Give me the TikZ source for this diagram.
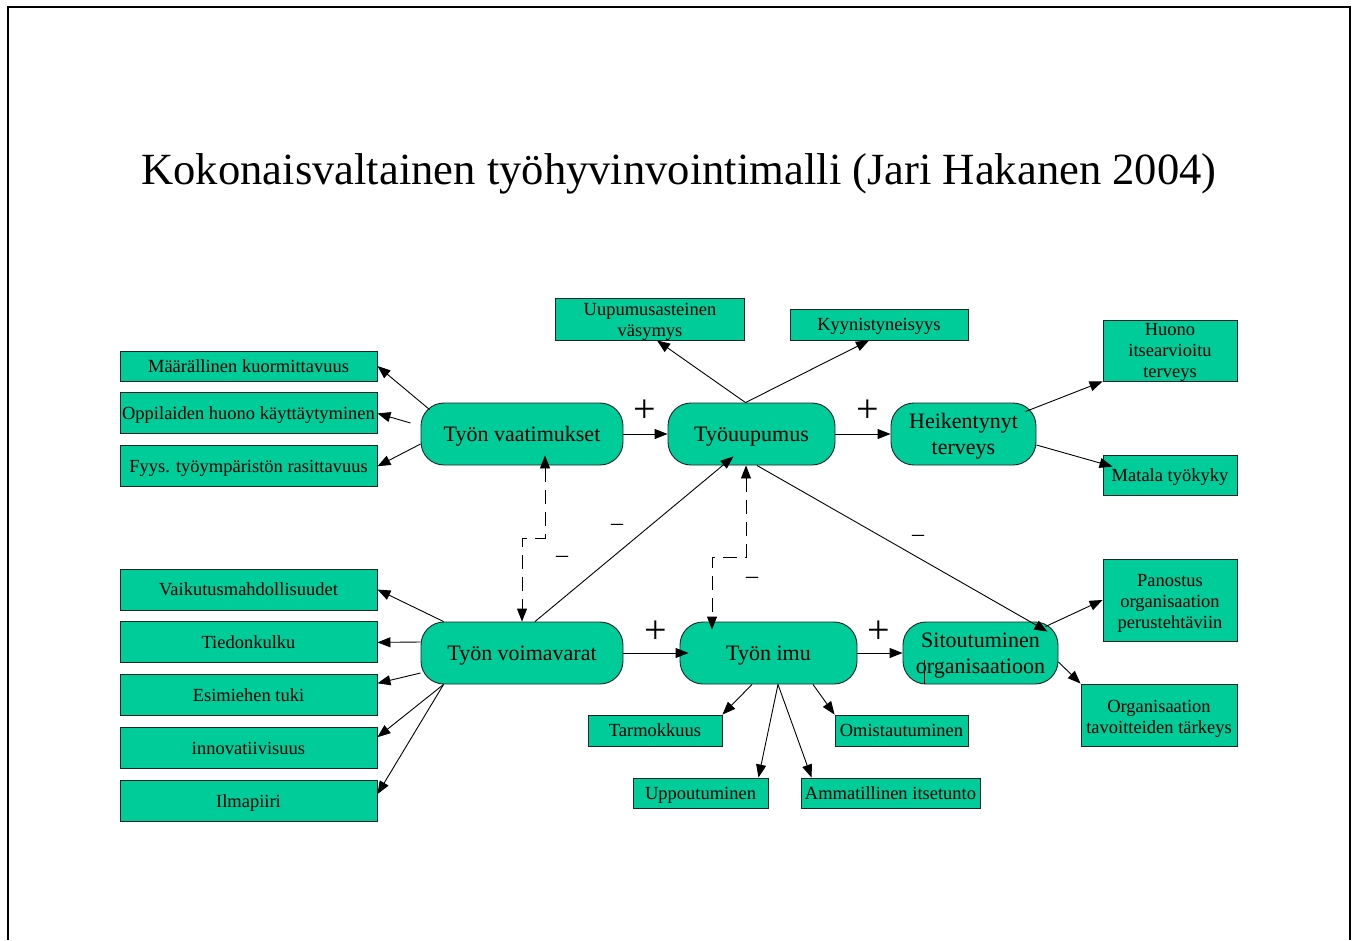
\documentclass[tikz,border=0pt]{standalone}
\usepackage{fontspec}
\setmainfont{Liberation Serif}
\usetikzlibrary{arrows.meta,calc,positioning}
\definecolor{boxGreen}{RGB}{0,204,153}
\definecolor{edgeInk}{RGB}{35,35,35}
\newcommand{\firstrow}[1]{\rule{0pt}{#1}}

\begin{document}
\begin{tikzpicture}[
    x=1pt, y=-1pt,
    flow/.style={-{Triangle[length=13pt,width=10pt]}, line width=0.9pt, draw=black},
    feedback/.style={
      {Triangle[length=13pt,width=10pt]}-{Triangle[length=13pt,width=10pt]},
      line width=0.9pt,
      draw=black,
      dash pattern=on 14pt off 8pt
    },
    construct/.style={
      rounded corners=23pt,
      draw=edgeInk,
      line width=0.9pt,
      fill=boxGreen,
      align=center,
      inner sep=0pt,
      minimum height=62pt,
      font=\fontsize{22}{26}\selectfont
    },
    indicator/.style={
      draw=edgeInk,
      line width=0.9pt,
      fill=boxGreen,
      align=center,
      inner sep=0pt,
      minimum height=41pt,
      font=\fontsize{18.5}{21}\selectfont
    },
    oneline/.style={text height=16pt, text depth=3.8pt},
    bigline/.style={text height=18.5pt, text depth=3.8pt},
    possign/.style={font=\fontsize{40}{40}\selectfont, inner sep=0pt},
    negsign/.style={font=\fontsize{24}{24}\selectfont, inner sep=0pt}
  ]
    \useasboundingbox (0,0) rectangle (1357,940);
    \draw[line width=1.6pt] (8,940) -- (8,7) -- (1350,7) -- (1350,940);

    \node[font=\fontsize{44.6}{50}\selectfont] (title) at (679,174)
      {Kokonaisvaltainen työhyvinvointimalli (Jari Hakanen 2004)};

    % main chain
    \node[construct, bigline, minimum width=202pt] (vaat) at (522,434) {Työn vaatimukset};
    \node[construct, bigline, minimum width=167pt] (uupu) at (751.5,434) {Työuupumus};
    \node[construct, minimum width=145pt] (heik) at (963.5,434) {\firstrow{20pt}Heikentynyt\\terveys};
    \node[construct, bigline, minimum width=202pt] (voima) at (522,653) {Työn voimavarat};
    \node[construct, bigline, minimum width=177pt] (imu) at (768.5,653) {Työn imu};
    \node[construct, minimum width=155pt] (sitou) at (980.5,653) {\firstrow{20pt}Sitoutuminen\\organisaatioon};

    % demands
    \node[indicator, oneline, minimum width=257pt, minimum height=30pt] (maara) at (248.5,366) {Määrällinen kuormittavuus};
    \node[indicator, oneline, minimum width=257pt, below=11pt of maara] (oppi) {Oppilaiden huono käyttäytyminen};
    \node[indicator, oneline, minimum width=257pt, below=11pt of oppi] (fyys) {Fyys. työympäristön rasittavuus};

    % resources
    \node[indicator, oneline, minimum width=257pt] (vaik) at (248.5,589.5) {Vaikutusmahdollisuudet};
    \node[indicator, oneline, minimum width=257pt, below=11pt of vaik] (tied) {Tiedonkulku};
    \node[indicator, oneline, minimum width=257pt, below=11pt of tied] (esim) {Esimiehen tuki};
    \node[indicator, oneline, minimum width=257pt, below=11pt of esim] (innov) {innovatiivisuus};
    \node[indicator, oneline, minimum width=257pt, below=11pt of innov] (ilma) {Ilmapiiri};

    % burnout and health
    \node[indicator, minimum width=189pt, minimum height=42pt] (vasy) at (650,319) {\firstrow{17pt}Uupumusasteinen\\väsymys};
    \node[indicator, oneline, minimum width=178pt, minimum height=31pt] (kyyn) at (879,324.5) {Kyynistyneisyys};
    \node[indicator, minimum width=134pt, minimum height=61pt] (huono) at (1170,350.5) {\firstrow{15pt}Huono\\itsearvioitu\\terveys};
    \node[indicator, oneline, minimum width=134pt, minimum height=40pt] (matala) at (1170,475) {Matala työkyky};

    % engagement
    \node[indicator, oneline, minimum width=134pt, minimum height=31pt] (tarmo) at (655,730.5) {Tarmokkuus};
    \node[indicator, oneline, minimum width=133pt, minimum height=31pt] (omist) at (901.5,730.5) {Omistautuminen};
    \node[indicator, oneline, minimum width=135pt, minimum height=30pt] (uppo) at (700.5,793) {Uppoutuminen};
    \node[indicator, oneline, minimum width=179pt, minimum height=30pt] (ammat) at (890.5,793) {Ammatillinen itsetunto};
    \node[indicator, minimum width=134pt, minimum height=82pt] (panos) at (1170,600) {\firstrow{19.5pt}Panostus\\organisaation\\perustehtäviin};
    \node[indicator, minimum width=156pt, minimum height=62pt] (organ) at (1159,715) {\firstrow{19.5pt}Organisaation\\tavoitteiden tärkeys};

    \draw[flow] ([shift={(9,7)}]vaat.north west) -- (maara.east);
    \draw[flow] ([shift={(-10,-11)}]vaat.west) -- (oppi.east);
    \draw[flow] ([yshift=-10]vaat.west) -- (fyys.east);

    \draw[flow] (vaat) -- (uupu);
    \draw[flow] (uupu) -- (heik);
    \draw[flow] ([xshift=-6]uupu.north) -- ([xshift=7]vasy.south);
    \draw[flow] ([xshift=-6]uupu.north) -- ([xshift=-10]kyyn.south);
    \draw[flow] ([shift={(-11,9)}]heik.north east) -- (huono.south west);
    \draw[flow] ([yshift=-11]heik.east) -- ([shift={(10,12)}]matala.north west);

    \draw[flow] ([xshift=23]voima.north west) -- (vaik.east);
    \draw[flow] ([yshift=11]voima.west) -- (tied.east);
    \draw[flow] ([yshift=-20]voima.west) -- ([yshift=12]esim.east);
    \draw[flow] ([xshift=23]voima.south west) -- ([yshift=11]innov.east);
    \draw[flow] ([xshift=23]voima.south west) -- ([yshift=7]ilma.east);

    \draw[flow] (voima.east) -- ([xshift=9]imu.west);
    \draw[flow] ([xshift=13]voima.north) -- ([shift={(-18,-9)}]uupu.south);
    \draw[flow] ([xshift=5.5]uupu.south) -- ([shift={(-11,10)}]sitou.north east);
    \draw[flow] (imu.east) -- (sitou.west);
    \draw[line width=0.9pt] ([xshift=-56.5]sitou.south) -- ++(0,-24);

    \draw[feedback] ([shift={(23,-10)}]vaat.south) -- ++(0,83) -| (voima.north);
    \draw[feedback] ([xshift=-5.5]uupu.south) -- ++(0,92) -| ([shift={(-56.5,8)}]imu.north);

    \draw[flow] ([shift={(-13,5)}]sitou.north east) -- (panos.west);
    \draw[flow] ([yshift=-9]sitou.east) -- (organ.north west);

    \draw[flow] ([xshift=-16.5]imu.south) -- (tarmo.north east);
    \draw[flow] ([xshift=9.5]imu.south) -- ([xshift=-10]uppo.north east);
    \draw[flow] ([xshift=9.5]imu.south) -- ([xshift=11]ammat.north west);
    \draw[flow] ([xshift=44.5]imu.south) -- (omist.north west);

    % signs
    \node[possign] (p1) at (645,411) {+};
    \node[possign] (p2) at (868,411) {+};
    \node[possign] (p3) at (656,632) {+};
    \node[possign] (p4) at (879,632) {+};
    \node[negsign] (m1) at (617,527) {–};
    \node[negsign] (m2) at (562,559) {–};
    \node[negsign] (m3) at (752,580) {–};
    \node[negsign] (m4) at (918,538) {–};
  \end{tikzpicture}
\end{document}
